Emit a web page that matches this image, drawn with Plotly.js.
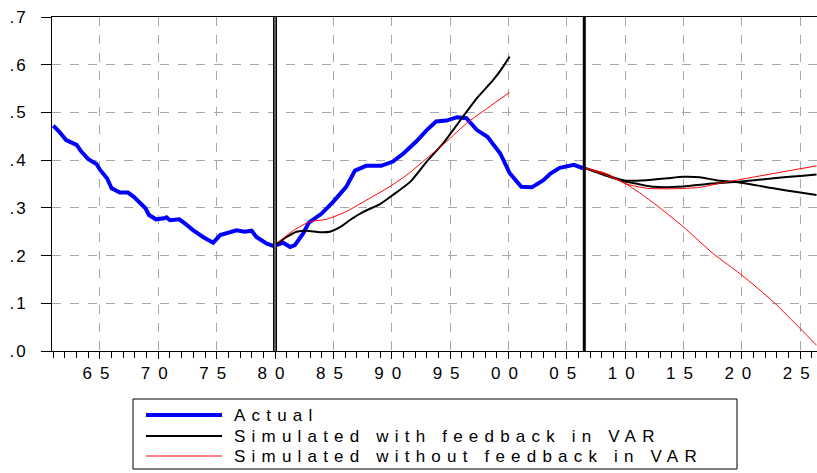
<!DOCTYPE html>
<html><head><meta charset="utf-8">
<script src="https://cdn.plot.ly/plotly-3.0.1.min.js"></script>
<style>
html,body{margin:0;padding:0;background:#fff}
#chart{width:817px;height:473px}
.xtick text{letter-spacing:8px !important}
.ytick text{letter-spacing:2px !important}
.annotation-text{letter-spacing:6.2px !important}
</style></head><body><div id="chart"></div>
<script>
// ---- data ----
const seriesNames = ["Actual", "Simulated with feedback in VAR", "Simulated without feedback in VAR"];

const actualYears = [1961.0,1961.5,1962.1,1963.0,1963.4,1964.0,1964.7,1965.0,1965.6,1966.0,1966.7,1967.4,1967.9,1968.5,1968.9,1969.2,1969.8,1970.5,1970.7,1971.0,1971.8,1972.3,1973.0,1973.9,1974.7,1975.3,1975.9,1976.7,1977.4,1978.0,1978.4,1979.3,1979.9,1980.7,1981.3,1981.7,1982.4,1982.9,1984.0,1985.0,1986.1,1986.85,1987.8,1989.1,1990.1,1991.0,1992.1,1993.0,1993.8,1994.7,1995.6,1996.4,1997.3,1998.2,1999.3,2000.1,2001.1,2002.0,2003.0,2003.6,2004.4,2005.6,2006.4];
const actualValues = [0.472,0.460,0.442,0.432,0.418,0.402,0.392,0.380,0.362,0.341,0.332,0.332,0.323,0.310,0.299,0.285,0.276,0.278,0.280,0.274,0.276,0.267,0.253,0.238,0.227,0.243,0.248,0.253,0.250,0.252,0.239,0.225,0.220,0.227,0.218,0.222,0.246,0.269,0.288,0.313,0.344,0.378,0.388,0.388,0.397,0.414,0.439,0.463,0.481,0.483,0.490,0.488,0.463,0.449,0.414,0.373,0.344,0.343,0.358,0.372,0.384,0.390,0.383];

// simulated with feedback: 1980-2000 run, and two post-2006 runs
const fbHistYears = [1979.9,1981.0,1981.85,1982.7,1983.85,1984.7,1985.6,1986.4,1987.6,1989.0,1990.1,1991.6,1993.0,1994.4,1995.8,1997.3,1998.7,1999.55,2000.1];
const fbHistValues = [0.220,0.239,0.250,0.252,0.249,0.250,0.260,0.274,0.292,0.308,0.327,0.355,0.397,0.435,0.481,0.530,0.568,0.596,0.617];
const fbFcastAYears = [2006.5,2008.4,2010.0,2011.85,2013.6,2015.0,2016.4,2017.8,2019.8,2022.7,2025.0,2026.4];
const fbFcastAValues = [0.384,0.369,0.357,0.358,0.362,0.365,0.364,0.358,0.353,0.341,0.332,0.327];
const fbFcastBYears = [2006.5,2008.4,2010.0,2011.1,2012.5,2015.0,2017.0,2020.0,2022.7,2025.0,2026.4];
const fbFcastBValues = [0.384,0.367,0.355,0.350,0.344,0.345,0.350,0.355,0.362,0.367,0.370];

// simulated without feedback
const nfHistYears = [1979.9,1981.6,1983.0,1984.4,1986.1,1987.6,1989.6,1991.3,1993.0,1994.7,1996.4,1998.2,2000.1];
const nfHistValues = [0.220,0.253,0.271,0.276,0.292,0.313,0.341,0.369,0.404,0.439,0.477,0.509,0.542];
const nfFcastAYears = [2006.5,2008.4,2010.0,2011.85,2014.1,2016.4,2018.4,2020.0,2022.7,2026.4];
const nfFcastAValues = [0.384,0.372,0.351,0.341,0.340,0.343,0.353,0.360,0.372,0.388];
const nfFcastBYears = [2006.5,2008.4,2010.0,2011.1,2012.5,2015.0,2017.55,2020.0,2022.7,2025.0,2026.4];
const nfFcastBValues = [0.384,0.368,0.351,0.334,0.309,0.260,0.204,0.159,0.103,0.047,0.012];

const xTickYears = [1965,1970,1975,1980,1985,1990,1995,2000,2005,2010,2015,2020,2025];
const xTickLabels = ["65","70","75","80","85","90","95","00","05","10","15","20","25"];
const yTickValues = [0,0.1,0.2,0.3,0.4,0.5,0.6,0.7];
const yTickLabels = [".0",".1",".2",".3",".4",".5",".6",".7"];
const markerYears = [1980, 2006.5];

// ---- helpers ----
function joinSegs(list){ const out=[]; list.forEach((s,i)=>{ if(i) out.push(null); out.push(...s); }); return out; }

const W=817,H=473,M={l:52,r:0,t:17,b:122};
const PW=W-M.l-M.r, PH=H-M.t-M.b;
const px=x=>(x-M.l)/PW, py=y=>(H-M.b-y)/PH;

const colors=["#0000ff","#000000","#ff0000"];
const widths=[4,2,1];

const traces=[
 {x:actualYears,y:actualValues,name:seriesNames[0],mode:'lines',line:{color:colors[0],width:widths[0]}},
 {x:joinSegs([fbHistYears,fbFcastAYears,fbFcastBYears]),y:joinSegs([fbHistValues,fbFcastAValues,fbFcastBValues]),name:seriesNames[1],mode:'lines',connectgaps:false,line:{color:colors[1],width:widths[1],shape:'spline',smoothing:0.6}},
 {x:joinSegs([nfHistYears,nfFcastAYears,nfFcastBYears]),y:joinSegs([nfHistValues,nfFcastAValues,nfFcastBValues]),name:seriesNames[2],mode:'lines',connectgaps:false,line:{color:colors[2],width:widths[2],shape:'spline',smoothing:0.6}}
];

const font={family:'"Liberation Sans", Arial, sans-serif',size:17,color:'#000'};
const shapes=[
 {type:'line',xref:'x',yref:'paper',x0:markerYears[0],x1:markerYears[0],y0:0,y1:1,line:{color:'#000',width:4}},
 {type:'line',xref:'x',yref:'paper',x0:markerYears[0],x1:markerYears[0],y0:0,y1:1,line:{color:'#999',width:1.2}},
 {type:'line',xref:'x',yref:'paper',x0:markerYears[1],x1:markerYears[1],y0:0,y1:1,line:{color:'#000',width:3}},
 {type:'rect',xref:'paper',yref:'paper',x0:px(133),x1:px(737),y0:py(399),y1:py(469),line:{color:'#000',width:1},fillcolor:'rgba(0,0,0,0)'}
];
const annotations=[];
const rowY=[415,436,456];
seriesNames.forEach((n,i)=>{
  shapes.push({type:'line',xref:'paper',yref:'paper',x0:px(146),x1:px(222),y0:py(rowY[i]),y1:py(rowY[i]),line:{color:colors[i],width:Math.max(widths[i],1)}});
  annotations.push({xref:'paper',yref:'paper',x:px(232),y:py(rowY[i]),xanchor:'left',yanchor:'middle',showarrow:false,text:n,font:{family:font.family,size:17,color:'#000'}});
});

const layout={
 width:W,height:H,margin:M,paper_bgcolor:'#fff',plot_bgcolor:'#fff',showlegend:false,font:font,
 xaxis:{range:[1960.89,2026.44],tickmode:'array',tickvals:xTickYears,ticktext:xTickLabels,ticks:'outside',ticklen:7,tickcolor:'#000',tickwidth:1,
   showgrid:true,gridcolor:'#a8a8a8',griddash:'dash',gridwidth:1,showline:true,linecolor:'#000',linewidth:1,mirror:true,zeroline:false,
   minor:{tickmode:'linear',tick0:1961,dtick:1,ticks:'outside',ticklen:6,tickcolor:'#000',tickwidth:1,showgrid:false},
   tickfont:font,ticklabelstandoff:0,ticklabeloverflow:'allow'},
 yaxis:{range:[0,0.7],tickmode:'array',tickvals:yTickValues,ticktext:yTickLabels,ticks:'outside',ticklen:10,tickcolor:'#000',
   showgrid:true,gridcolor:'#a8a8a8',griddash:'dash',gridwidth:1,showline:true,linecolor:'#000',linewidth:1,zeroline:false,
   tickfont:font,ticklabelstandoff:10,ticklabeloverflow:'allow'},
 shapes:shapes,annotations:annotations
};
Plotly.newPlot('chart',traces,layout,{staticPlot:true,displayModeBar:false});
</script></body></html>
